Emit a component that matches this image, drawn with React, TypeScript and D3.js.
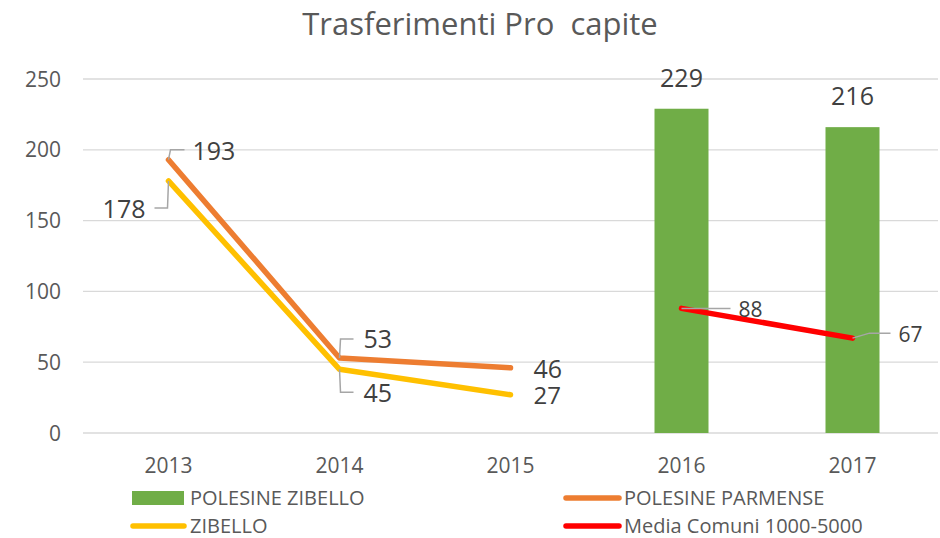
import React from "react";
import * as d3 from "d3";

const years = ["2013", "2014", "2015", "2016", "2017"];
const polesineZibello: (number | null)[] = [null, null, null, 229, 216];
const polesineParmense: (number | null)[] = [193, 53, 46, null, null];
const zibello: (number | null)[] = [178, 45, 27, null, null];
const mediaComuni: (number | null)[] = [null, null, null, 88, 67];
const yTicks = [0, 50, 100, 150, 200, 250];
const title = "Trasferimenti Pro  capite";

const W = 940;
const H = 538;
const FONT = "'Open Sans', sans-serif";

const x = d3.scaleBand<string>().domain(years).range([83, 938]).paddingInner(0).paddingOuter(0);
const y = d3.scaleLinear().domain([0, 250]).range([433, 79]);
const cx = (i: number) => (x(years[i]) as number) + x.bandwidth() / 2;

type LineSeries = { name: string; values: (number | null)[]; color: string; width: number };
const lineSeries: LineSeries[] = [
  { name: "POLESINE PARMENSE", values: polesineParmense, color: "#ed7d31", width: 5.5 },
  { name: "ZIBELLO", values: zibello, color: "#ffc000", width: 5.5 },
  { name: "Media Comuni 1000-5000", values: mediaComuni, color: "#ff0000", width: 5.5 },
];

// label layout (offsets relative to point) - presentation only
type LabelLayout = {
  values: (number | null)[];
  i: number;
  dx: number;
  dy: number;
  anchor: "start" | "end";
  size: number;
  leader?: [number, number][];
};
const labelLayout: LabelLayout[] = [
  { values: polesineParmense, i: 0, dx: 24, dy: 0, anchor: "start", size: 25, leader: [[0, 0], [2, -10], [16, -10]] },
  { values: zibello, i: 0, dx: -23, dy: 37, anchor: "end", size: 25, leader: [[0, 0], [-1, 27], [-14, 27]] },
  { values: polesineParmense, i: 1, dx: 24, dy: -10, anchor: "start", size: 25, leader: [[0, 0], [1, -19], [14, -19]] },
  { values: zibello, i: 1, dx: 24, dy: 33, anchor: "start", size: 25, leader: [[0, 0], [1, 23], [14, 23]] },
  { values: polesineParmense, i: 2, dx: 23, dy: 10, anchor: "start", size: 25 },
  { values: zibello, i: 2, dx: 23, dy: 9.5, anchor: "start", size: 24 },
  { values: mediaComuni, i: 3, dx: 57, dy: 8.5, anchor: "start", size: 21, leader: [[0, 0], [49, 0]] },
  { values: mediaComuni, i: 4, dx: 46, dy: 4, anchor: "start", size: 21, leader: [[0, 0], [17, -5], [38, -5]] },
];

export default function App() {
  const barW = 54;
  const line = d3
    .line<[number, number | null]>()
    .defined((d) => d[1] !== null)
    .x((d) => cx(d[0]))
    .y((d) => y(d[1] as number));

  return (
    <svg width={W} height={H} style={{ position: "absolute", left: 0, top: 0, background: "#fff" }} fontFamily={FONT}>
      <rect width={W} height={H} fill="#fff" />
      <text x={480} y={35} textAnchor="middle" fontSize={31} fill="#595959" style={{ whiteSpace: "pre" }}>
        {title}
      </text>
      {yTicks.map((t) => (
        <g key={t}>
          <line x1={83} x2={938} y1={y(t)} y2={y(t)} stroke="#d9d9d9" strokeWidth={1.3} />
          <text x={61} y={y(t) + 7.5} textAnchor="end" fontSize={21} fill="#595959">
            {t}
          </text>
        </g>
      ))}
      {years.map((yr, i) => (
        <text key={yr} x={cx(i)} y={472.5} textAnchor="middle" fontSize={21} fill="#595959">
          {yr}
        </text>
      ))}
      {polesineZibello.map((v, i) =>
        v === null ? null : (
          <g key={"b" + i}>
            <rect x={cx(i) - barW / 2} y={y(v)} width={barW} height={y(0) - y(v)} fill="#70ad47" />
            <text x={cx(i)} y={y(v) - 22} textAnchor="middle" fontSize={25} fill="#404040">
              {v}
            </text>
          </g>
        )
      )}
      {lineSeries.map((s) => (
        <path
          key={s.name}
          d={line(s.values.map((v, i) => [i, v] as [number, number | null])) || ""}
          fill="none"
          stroke={s.color}
          strokeWidth={s.width}
          strokeLinecap="round"
          strokeLinejoin="round"
        />
      ))}
      {labelLayout.map((l, k) => {
        const v = l.values[l.i] as number;
        const px = cx(l.i);
        const py = y(v);
        return (
          <g key={"l" + k}>
            {l.leader && (
              <polyline
                points={l.leader.map(([a, b]) => `${px + a},${py + b}`).join(" ")}
                fill="none"
                stroke="#a6a6a6"
                strokeWidth={1.5}
              />
            )}
            <text x={px + l.dx} y={py + l.dy} textAnchor={l.anchor} fontSize={l.size} fill="#404040">
              {v}
            </text>
          </g>
        );
      })}
      {/* legend */}
      <rect x={132} y={491} width={52} height={14} fill="#70ad47" />
      <text x={190} y={505} fontSize={20} fill="#595959">POLESINE ZIBELLO</text>
      <line x1={566} x2={619} y1={498} y2={498} stroke="#ed7d31" strokeWidth={5.5} strokeLinecap="round" />
      <text x={624} y={505} fontSize={20} fill="#595959">POLESINE PARMENSE</text>
      <line x1={133} x2={184} y1={526} y2={526} stroke="#ffc000" strokeWidth={5.5} strokeLinecap="round" />
      <text x={190} y={533} fontSize={20} fill="#595959">ZIBELLO</text>
      <line x1={566} x2={619} y1={526} y2={526} stroke="#ff0000" strokeWidth={5.5} strokeLinecap="round" />
      <text x={624} y={533} fontSize={20} fill="#595959">Media Comuni 1000-5000</text>
    </svg>
  );
}
